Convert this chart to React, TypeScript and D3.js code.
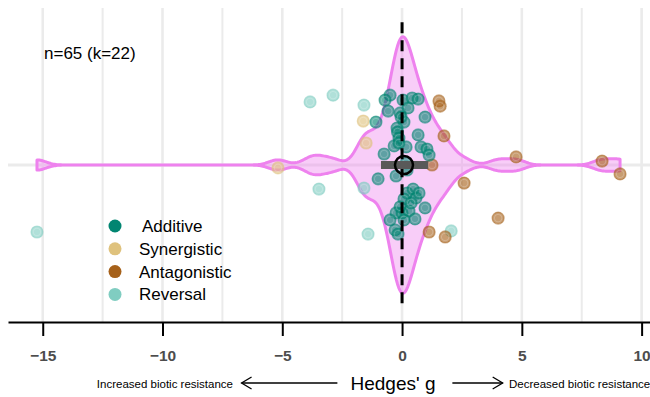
import React, { useEffect, useRef } from "react";
import * as d3 from "d3";

// Hedges' g for each effect size, its vertical jitter and the interaction type
const gValues = [
  // Reversal
  -15.24, -3.84, -2.88, -3.47, -1.59, -1.59, -1.42, 2.05,
  // Synergistic
  -1.62, -5.18, -1.5,
  // Antagonistic
  1.54, 1.59, 1.75, 1.25, 2.59, 4.76, 8.35, 9.1, 4.01, 1.13, 1.8,
  // Additive
  -0.5, -0.71, 0.04, 0.42, 0.67, -0.58, -0.08, 0.25, -1.09, 0.08, 0.96, -0.21,
  -0.19, -0.13, 0.67, -0.33, 0.17, 0.79, 1.04, 1.13, -0.75, 0.17, -1.0, -0.25,
  0.21, 0.21, 0.46, 0.08, 0.58, 0.96, -0.25, 0.0, 0.29, -0.5, 0.08, 0.54,
  -0.29, -0.17, -0.04, -0.13, 0.38, -0.08, 0.71,
];
const yJitter = [
  -0.256, 0.241, 0.267, -0.092, 0.229, -0.088, -0.264, -0.252,
  0.168, -0.011, 0.084,
  0.245, 0.225, 0.111, 0.0, -0.069, 0.031, 0.015, -0.034, -0.203, -0.256, -0.275,
  0.267, 0.248, 0.248, 0.256, 0.252, 0.206, 0.199, 0.218, 0.164, 0.164, 0.183, 0.141,
  0.126, 0.103, 0.115, 0.073, 0.069, 0.069, 0.061, 0.038, 0.042, 0.008, -0.053, -0.042,
  -0.019, -0.107, -0.092, -0.13, -0.126, -0.164, -0.183, -0.183, -0.176, -0.21, -0.21, -0.206,
  -0.248, -0.264, 0.183, 0.084, -0.145, -0.16, -0.107,
];
const interaction = [
  ...Array(8).fill("Reversal"),
  ...Array(3).fill("Synergistic"),
  ...Array(11).fill("Antagonistic"),
  ...Array(43).fill("Additive"),
];

const categories = ["Additive", "Synergistic", "Antagonistic", "Reversal"];
const catColors = ["#018571", "#dfc27d", "#a6611a", "#80cdc1"];
const xTicks = [-15, -10, -5, 0, 5, 10];
const gridTicks = [-15, -12.5, -10, -7.5, -5, -2.5, 0, 2.5, 5, 7.5, 10];
const meanG = 0.08;
const ciG = [-0.88, 1.09];
const sampleLabel = "n=65 (k=22)";

const font = "'Liberation Sans', Arial, sans-serif";

export default function App() {
  const ref = useRef(null);

  useEffect(() => {
    const width = 650;
    const svg = d3.select(ref.current);
    svg.selectAll("*").remove();

    const x = d3.scaleLinear().domain([-16.45, 10.35]).range([8, 650]);
    const y = d3.scaleLinear().domain([-0.6, 0.6]).range([322, 8]);
    const color = d3.scaleOrdinal().domain(categories).range(catColors);

    // grid
    svg
      .append("g")
      .selectAll("line")
      .data(gridTicks)
      .join("line")
      .attr("x1", (d) => x(d))
      .attr("x2", (d) => x(d))
      .attr("y1", y(0.6))
      .attr("y2", y(-0.6))
      .attr("stroke", "#ebebeb")
      .attr("stroke-width", (d) => (d % 5 === 0 ? 2.6 : 2));
    svg
      .append("line")
      .attr("x1", 8)
      .attr("x2", width)
      .attr("y1", y(0))
      .attr("y2", y(0))
      .attr("stroke", "#ebebeb")
      .attr("stroke-width", 3);

    // violin: gaussian kernel density, bw.nrd0
    const n = gValues.length;
    const sorted = gValues.slice().sort(d3.ascending);
    const sd = d3.deviation(gValues);
    const iqr = d3.quantile(sorted, 0.75) - d3.quantile(sorted, 0.25);
    const bw = 0.9 * Math.min(sd, iqr / 1.34) * Math.pow(n, -0.2);
    const lo = d3.min(gValues);
    const hi = d3.max(gValues);
    const dens = d3.range(512).map((i) => {
      const g = lo + ((hi - lo) * i) / 511;
      const d =
        d3.sum(gValues, (v) => Math.exp(-0.5 * ((g - v) / bw) ** 2)) /
        (n * bw * Math.sqrt(2 * Math.PI));
      return { g, d };
    });
    const dmax = d3.max(dens, (d) => d.d);
    const half = 0.49;
    const area = d3
      .area()
      .x((d) => x(d.g))
      .y0((d) => y((-half * d.d) / dmax))
      .y1((d) => y((half * d.d) / dmax));
    svg
      .append("path")
      .datum(dens)
      .attr("d", area)
      .attr("fill", "violet")
      .attr("fill-opacity", 0.4)
      .attr("stroke", "violet")
      .attr("stroke-width", 3)
      .attr("stroke-linejoin", "round");

    // points
    const pts = svg
      .append("g")
      .selectAll("g")
      .data(gValues.map((g, i) => ({ g, j: yJitter[i], t: interaction[i] })))
      .join("g")
      .attr("transform", (d) => `translate(${x(d.g)}, ${y(d.j)})`);
    pts
      .append("circle")
      .attr("r", 6)
      .attr("fill", (d) => color(d.t))
      .attr("fill-opacity", 0.62)
      .attr("stroke", (d) => color(d.t))
      .attr("stroke-opacity", 0.5)
      .attr("stroke-width", 1.2);
    pts
      .append("circle")
      .attr("r", 3.8)
      .attr("fill", "none")
      .attr("stroke", "#fff")
      .attr("stroke-opacity", 0.22)
      .attr("stroke-width", 1);

    // zero line
    svg
      .append("line")
      .attr("x1", x(0))
      .attr("x2", x(0))
      .attr("y1", y(0.546))
      .attr("y2", y(-0.546))
      .attr("stroke", "#000")
      .attr("stroke-width", 3)
      .attr("stroke-dasharray", "11 7");

    // mean + CI
    svg
      .append("rect")
      .attr("x", x(ciG[0]))
      .attr("width", x(ciG[1]) - x(ciG[0]))
      .attr("y", y(0) - 4)
      .attr("height", 8)
      .attr("fill", "#595959");
    svg
      .append("circle")
      .attr("cx", x(meanG))
      .attr("cy", y(0))
      .attr("r", 9)
      .attr("fill", "none")
      .attr("stroke", "#000")
      .attr("stroke-width", 2.5);

    // axis
    const axis = svg
      .append("g")
      .attr("transform", `translate(0, ${y(-0.6)})`)
      .call(
        d3.axisBottom(x).tickValues(xTicks).tickSize(14).tickSizeOuter(0).tickPadding(14)
      );
    axis.attr("font-family", font).attr("font-size", 15.5);
    axis.select(".domain").attr("stroke", "#000").attr("stroke-width", 2);
    axis.selectAll(".tick line").attr("stroke", "#000").attr("stroke-width", 2);
    axis.selectAll(".tick text").attr("fill", "#4d4d4d").attr("font-weight", "bold");

    // axis title with arrows
    svg
      .append("text")
      .attr("x", 393)
      .attr("y", 390)
      .attr("text-anchor", "middle")
      .style("font-family", font)
      .style("font-size", "19px")
      .text("Hedges' g");
    svg
      .append("text")
      .attr("x", 233)
      .attr("y", 388)
      .attr("text-anchor", "end")
      .style("font-family", font)
      .style("font-size", "11.5px")
      .text("Increased biotic resistance");
    svg
      .append("text")
      .attr("x", 509)
      .attr("y", 388)
      .attr("text-anchor", "start")
      .style("font-family", font)
      .style("font-size", "11.5px")
      .text("Decreased biotic resistance");
    const ay = 383;
    const arrows = svg.append("g").attr("stroke", "#000").attr("stroke-width", 1.3).attr("fill", "none");
    arrows.append("line").attr("x1", x(-2.7)).attr("x2", x(-6.7)).attr("y1", ay).attr("y2", ay);
    arrows.append("path").attr("d", `M${x(-6.7) + 10},${ay - 6}L${x(-6.7)},${ay}L${x(-6.7) + 10},${ay + 6}`);
    arrows.append("line").attr("x1", x(2.1)).attr("x2", x(4.2)).attr("y1", ay).attr("y2", ay);
    arrows.append("path").attr("d", `M${x(4.2) - 10},${ay - 6}L${x(4.2)},${ay}L${x(4.2) - 10},${ay + 6}`);

    // sample size
    svg
      .append("text")
      .attr("x", 44)
      .attr("y", 59)
      .style("font-family", font)
      .style("font-size", "17px")
      .text(sampleLabel);

    // legend
    const legend = svg
      .append("g")
      .selectAll("g")
      .data(categories)
      .join("g")
      .attr("transform", (d, i) => `translate(115, ${226 + i * 22.8})`);
    legend.append("circle").attr("r", 6.5).attr("fill", (d) => color(d));
    legend
      .append("text")
      .attr("x", (d, i) => (i === 0 ? 27 : 24))
      .attr("y", 6)
      .style("font-family", font)
      .style("font-size", "17px")
      .text((d) => d);
  }, []);

  return (
    <svg
      ref={ref}
      width={650}
      height={397}
      style={{ position: "absolute", left: 0, top: 0, background: "#fff" }}
    />
  );
}
